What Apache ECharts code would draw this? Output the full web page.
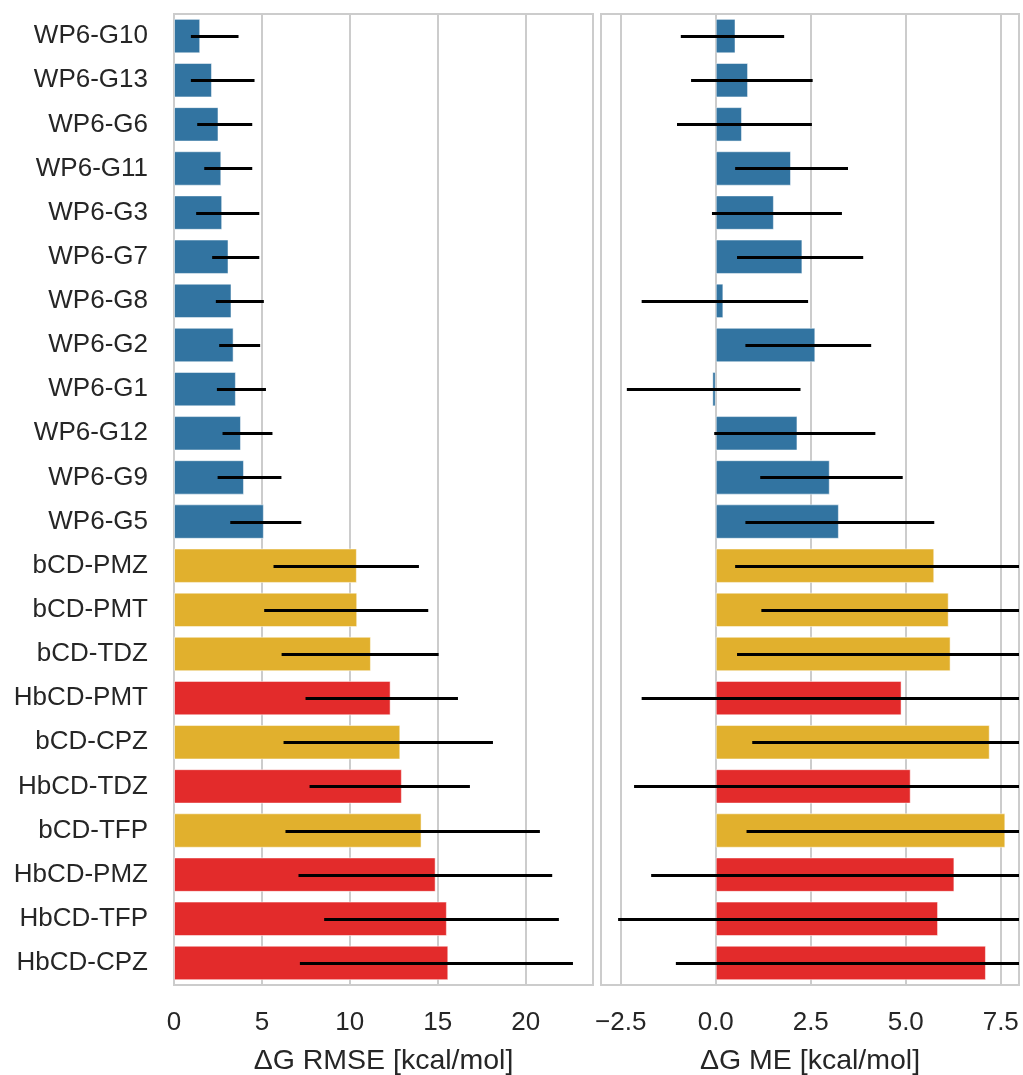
<!DOCTYPE html>
<html>
<head>
<meta charset="utf-8">
<script src="https://cdn.jsdelivr.net/npm/echarts@6/dist/echarts.min.js"></script>
<style>
html,body{margin:0;padding:0;background:#fff}
#main{width:1023px;height:1075px}
</style>
</head>
<body>
<div id="main"></div>
<script>
// ---------- data ----------
var systems = ['WP6-G10','WP6-G13','WP6-G6','WP6-G11','WP6-G3','WP6-G7','WP6-G8','WP6-G2','WP6-G1','WP6-G12','WP6-G9','WP6-G5',
  'bCD-PMZ','bCD-PMT','bCD-TDZ','HbCD-PMT','bCD-CPZ','HbCD-TDZ','bCD-TFP','HbCD-PMZ','HbCD-TFP','HbCD-CPZ'];

var rmse     = [1.49,2.16,2.53,2.69,2.74,3.10,3.27,3.39,3.52,3.81,3.98,5.11,10.40,10.42,11.20,12.32,12.87,12.96,14.08,14.88,15.52,15.60];
var rmseLow  = [0.96,0.96,1.32,1.72,1.26,2.17,2.38,2.57,2.44,2.76,2.48,3.20,5.66,5.13,6.12,7.48,6.23,7.71,6.34,7.08,8.54,7.16];
var rmseHigh = [3.67,4.58,4.45,4.45,4.85,4.85,5.11,4.90,5.23,5.60,6.11,7.24,13.93,14.46,15.05,16.15,18.14,16.83,20.81,21.51,21.89,22.69];

var me     = [0.52,0.85,0.69,1.98,1.53,2.28,0.20,2.62,-0.09,2.15,3.00,3.24,5.75,6.13,6.18,4.89,7.21,5.13,7.62,6.28,5.85,7.11];
var meLow  = [-0.92,-0.65,-1.02,0.51,-0.10,0.56,-1.95,0.78,-2.34,-0.04,1.17,0.78,0.51,1.20,0.56,-1.95,0.96,-2.15,0.81,-1.70,-2.57,-1.05];
var meHigh = [1.80,2.55,2.53,3.48,3.32,3.88,2.43,4.09,2.23,4.20,4.92,5.75,10.5,11.0,11.5,11.0,13.0,11.8,14.0,13.5,13.5,14.5];

var rmseTicks = [0, 5, 10, 15, 20];
var meTicks = [-2.5, 0, 2.5, 5, 7.5];
// -----------------------------------------------

var chartDom = document.getElementById('main');
var myChart = echarts.init(chartDom);
var option;

var font = 'Liberation Sans, Arial, Helvetica, sans-serif';
var textColor = '#262626';
var gridColor = '#cccccc';

function hostColor(name) {
    if (name.indexOf('WP6') == 0) return '#3274a1';
    if (name.indexOf('HbCD') == 0) return '#e32b2b';
    return '#e1b02d';
}

function barData(values) {
    var out = [];
    for (var i = 0; i < values.length; i++) {
        out.push({value: values[i], itemStyle: {color: hostColor(systems[i])}});
    }
    return out;
}

function errData(lo, hi) {
    var out = [];
    for (var i = 0; i < lo.length; i++) {
        out.push([lo[i], hi[i], i]);
    }
    return out;
}

// horizontal error bar, clipped to the plot area
function errorBar(params, api) {
    var a = api.coord([api.value(0), api.value(2)]);
    var b = api.coord([api.value(1), api.value(2)]);
    var cs = params.coordSys;
    var x1 = Math.max(a[0], cs.x);
    var x2 = Math.min(b[0], cs.x + cs.width);
    return {
        type: 'line',
        shape: {x1: x1, y1: Math.round(a[1]) + 0.5, x2: x2, y2: Math.round(b[1]) + 0.5},
        style: {stroke: '#000', lineWidth: 3}
    };
}

function valueAxis(idx, min, max, ticks, title, fmt) {
    return {
        type: 'value',
        gridIndex: idx,
        min: min,
        max: max,
        name: title,
        nameLocation: 'middle',
        nameGap: 62,
        nameTextStyle: {fontFamily: font, fontSize: 28.5, color: textColor},
        axisLine: {show: false},
        axisTick: {show: false, customValues: ticks},
        axisLabel: {
            customValues: ticks,
            margin: 25,
            fontFamily: font,
            fontSize: 26,
            color: textColor,
            formatter: fmt
        },
        splitLine: {show: true, lineStyle: {color: gridColor, width: 2}}
    };
}

function catAxis(idx, showLabels) {
    return {
        type: 'category',
        gridIndex: idx,
        data: systems,
        inverse: true,
        axisLine: {show: false},
        axisTick: {show: false},
        splitLine: {show: false},
        axisLabel: {
            show: showLabels,
            margin: 26,
            fontFamily: font,
            fontSize: 26,
            color: textColor
        }
    };
}

option = {
    backgroundColor: '#ffffff',
    animation: false,
    grid: [
        {left: 174, top: 14, width: 419, height: 971, containLabel: false, outerBoundsMode: 'none',
         show: true, borderColor: gridColor, borderWidth: 2, backgroundColor: 'transparent'},
        {left: 601, top: 14, width: 418, height: 971, containLabel: false, outerBoundsMode: 'none',
         show: true, borderColor: gridColor, borderWidth: 2, backgroundColor: 'transparent'}
    ],
    xAxis: [
        valueAxis(0, 0, 23.83, rmseTicks, '\u0394G RMSE [kcal/mol]', function (v) { return String(v); }),
        valueAxis(1, -3.02, 7.98, meTicks, '\u0394G ME [kcal/mol]', function (v) { return v.toFixed(1).replace('-', '\u2212'); })
    ],
    yAxis: [catAxis(0, true), catAxis(1, false)],
    series: [
        {
            name: 'RMSE',
            type: 'bar',
            xAxisIndex: 0,
            yAxisIndex: 0,
            barWidth: '78%',
            itemStyle: {borderColor: 'rgba(255,255,255,0.5)', borderWidth: 1},
            data: barData(rmse)
        },
        {
            name: 'ME',
            type: 'bar',
            xAxisIndex: 1,
            yAxisIndex: 1,
            barWidth: '78%',
            itemStyle: {borderColor: 'rgba(255,255,255,0.5)', borderWidth: 1},
            data: barData(me)
        },
        {
            name: 'RMSE CI',
            type: 'custom',
            xAxisIndex: 0,
            yAxisIndex: 0,
            renderItem: errorBar,
            encode: {x: [0, 1], y: 2},
            z: 5,
            data: errData(rmseLow, rmseHigh)
        },
        {
            name: 'ME CI',
            type: 'custom',
            xAxisIndex: 1,
            yAxisIndex: 1,
            renderItem: errorBar,
            encode: {x: [0, 1], y: 2},
            z: 5,
            data: errData(meLow, meHigh)
        }
    ]
};

option && myChart.setOption(option);
</script>
</body>
</html>
